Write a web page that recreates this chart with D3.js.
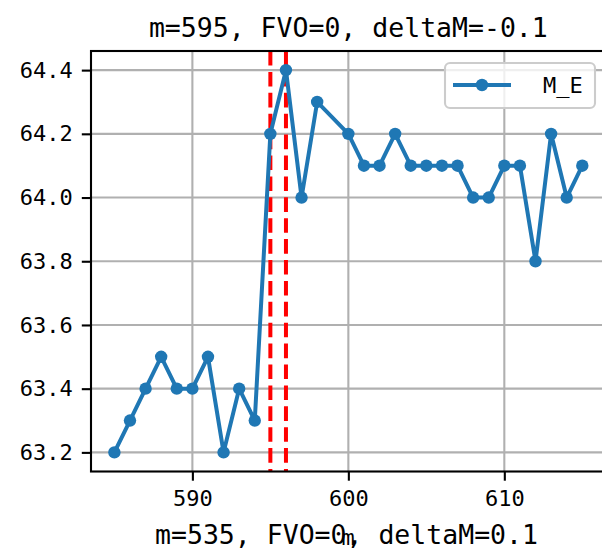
<!DOCTYPE html>
<html>
<head>
<meta charset="utf-8">
<script src="https://cdn.jsdelivr.net/npm/d3@7"></script>
<style>
  body { margin: 0; background: #fff; }
  svg text { font-family: "DejaVu Sans Mono", monospace; fill: #000; }
</style>
</head>
<body>
<div id="chart"></div>
<script>
// data
const mValues = [585, 586, 587, 588, 589, 590, 591, 592, 593, 594, 595, 596, 597, 598,
                 600, 601, 602, 603, 604, 605, 606, 607, 608, 609, 610, 611, 612, 613, 614, 615];
const meValues = [63.2, 63.3, 63.4, 63.5, 63.4, 63.4, 63.5, 63.2, 63.4, 63.3, 64.2, 64.4, 64.0, 64.3,
                  64.2, 64.1, 64.1, 64.2, 64.1, 64.1, 64.1, 64.1, 64.0, 64.0, 64.1, 64.1, 63.8, 64.2, 64.0, 64.1];
const markLines = [595, 596];
const xTicks = [590, 600, 610];
const yTicks = [63.2, 63.4, 63.6, 63.8, 64.0, 64.2, 64.4];
const titleText = "m=595, FVO=0, deltaM=-0.1";
const bottomText = "m=535, FVO=0, deltaM=0.1";
const seriesName = "M_E";

const width = 602, height = 551;
const plotL = 91, plotR = 605.7, plotT = 51, plotB = 471.5;
const blue = "#1f77b4";

const svg = d3.select("#chart")
  .append("svg")
    .attr("width", width)
    .attr("height", height);

// scales (matplotlib style 5% margins)
const x = d3.scaleLinear().domain([583.5, 616.5]).range([plotL, plotR]);
const y = d3.scaleLinear().domain([63.14, 64.46]).range([plotB, plotT]);

// grid
const grid = svg.append("g");
grid.selectAll(".gx")
  .data(xTicks)
  .join("line")
    .attr("x1", d => x(d)).attr("x2", d => x(d))
    .attr("y1", plotT).attr("y2", plotB)
    .attr("stroke", "#b0b0b0").attr("stroke-width", 2.1);
grid.selectAll(".gy")
  .data(yTicks)
  .join("line")
    .attr("x1", plotL).attr("x2", plotR)
    .attr("y1", d => y(d)).attr("y2", d => y(d))
    .attr("stroke", "#b0b0b0").attr("stroke-width", 2.1);

// red dashed lines
svg.append("g").selectAll("line")
  .data(markLines)
  .join("line")
    .attr("x1", d => x(d)).attr("x2", d => x(d))
    .attr("y1", plotT).attr("y2", plotB)
    .attr("stroke", "#ff0000")
    .attr("stroke-width", 4)
    .attr("stroke-dasharray", "14.6,6.3");

// series
const pts = mValues.map((m, i) => [m, meValues[i]]);
svg.append("path")
  .datum(pts)
  .attr("fill", "none")
  .attr("stroke", blue)
  .attr("stroke-width", 4)
  .attr("stroke-linejoin", "round")
  .attr("d", d3.line().x(d => x(d[0])).y(d => y(d[1])));
svg.append("g").selectAll("circle")
  .data(pts)
  .join("circle")
    .attr("cx", d => x(d[0]))
    .attr("cy", d => y(d[1]))
    .attr("r", 6.2)
    .attr("fill", blue);

// axes
const xAxis = svg.append("g")
  .attr("transform", `translate(0,${plotB})`)
  .call(d3.axisBottom(x).tickValues(xTicks).tickSize(9.2).tickPadding(7).tickFormat(d3.format("d")));
const yAxis = svg.append("g")
  .attr("transform", `translate(${plotL},0)`)
  .call(d3.axisLeft(y).tickValues(yTicks).tickSize(9.2).tickPadding(9).tickFormat(d3.format(".1f")));
[xAxis, yAxis].forEach(a => {
  a.select(".domain").remove();
  a.selectAll(".tick line").attr("stroke", "#000").attr("stroke-width", 2.1);
  a.selectAll(".tick text").style("font-size", "22px");
});
xAxis.selectAll(".tick text").attr("dy", "0.85em");

// frame
svg.append("rect")
  .attr("x", plotL).attr("y", plotT)
  .attr("width", plotR - plotL).attr("height", plotB - plotT)
  .attr("fill", "none")
  .attr("stroke", "#000")
  .attr("stroke-width", 2.1);

// legend
const legend = svg.append("g");
legend.append("rect")
  .attr("x", 445).attr("y", 63)
  .attr("width", 150).attr("height", 45)
  .attr("rx", 5)
  .attr("fill", "#fff").attr("fill-opacity", 0.8)
  .attr("stroke", "#cccccc").attr("stroke-width", 2.1);
legend.append("line")
  .attr("x1", 453).attr("x2", 511)
  .attr("y1", 85).attr("y2", 85)
  .attr("stroke", blue).attr("stroke-width", 4);
legend.append("circle")
  .attr("cx", 482).attr("cy", 85).attr("r", 6.2)
  .attr("fill", blue);
legend.append("text")
  .attr("x", 543).attr("y", 93)
  .style("font-size", "22px")
  .text(seriesName);

// title
svg.append("text")
  .attr("x", (plotL + plotR) / 2)
  .attr("y", 37)
  .attr("text-anchor", "middle")
  .style("font-size", "26.5px")
  .text(titleText);

// x label (small "m") and second caption below
svg.append("text")
  .attr("x", 348)
  .attr("y", 545)
  .attr("text-anchor", "middle")
  .style("font-size", "22px")
  .text("m");
svg.append("text")
  .attr("x", 346.5)
  .attr("y", 544)
  .attr("text-anchor", "middle")
  .style("font-size", "26.5px")
  .text(bottomText);
</script>
</body>
</html>
